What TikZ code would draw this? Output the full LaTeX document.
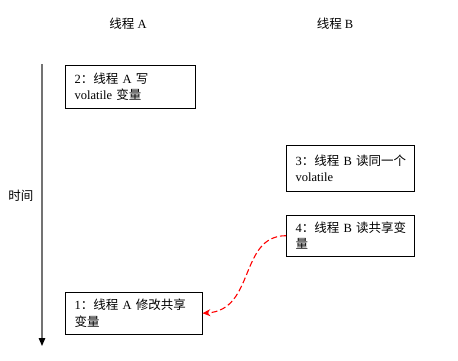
\documentclass[tikz,border=0pt]{standalone}
\usepackage{fontspec}
\setmainfont{Liberation Serif}
\newfontfamily\cjk{Noto Sans CJK SC}
\newcommand{\zh}[1]{{\cjk #1}}
\usetikzlibrary{arrows.meta}

\tikzset{
	every node/.style={font=\fontsize{12.5}{16.5}\selectfont},
	box/.style={draw, anchor=north west, align=left, inner xsep=9.5pt, inner ysep=0pt, text width=#1},
	timeline/.style={draw=gray!90!black, line width=1.4pt, -{Triangle[length=8pt,width=6.5pt,color=black]}},
	sync/.style={red, line width=1.1pt, dash pattern=on 6pt off 3pt, -{Stealth[length=8pt,width=7pt]}}
}

\begin{document}
\begin{tikzpicture}[x=1pt,y=-1pt]
\useasboundingbox (0,0) rectangle (458,360);
% thread headers and time axis
\path
	(128,24) node (thA) {\zh{线程} A}
	(335,24) node (thB) {\zh{线程} B}
	(21,196) node (time) {\zh{时间}};
\coordinate (t0) at (42,64);
\coordinate (t1) at (42,346);
\draw [timeline] (t0) -- (t1);
% the four steps
\node [box=111pt, minimum height=43pt] (w2) at (65,65) {2\zh{：线程}~A~\zh{写}\\volatile~\zh{变量}};
\node [box=109pt, minimum height=46pt] (r3) at (286,145) {3\zh{：线程}~B~\zh{读同一个}\\volatile};
\node [box=109pt, minimum height=41pt] (r4) at (286,215) {4\zh{：线程}~B~\zh{读共享变}\\\zh{量}};
\node [box=118pt, minimum height=42pt] (m1) at (65,292) {1\zh{：线程}~A~\zh{修改共享}\\\zh{变量}};
\draw [sync] (r4.west) .. controls +(-47,0) and +(53,-3) .. (m1.east);
\end{tikzpicture}
\end{document}
